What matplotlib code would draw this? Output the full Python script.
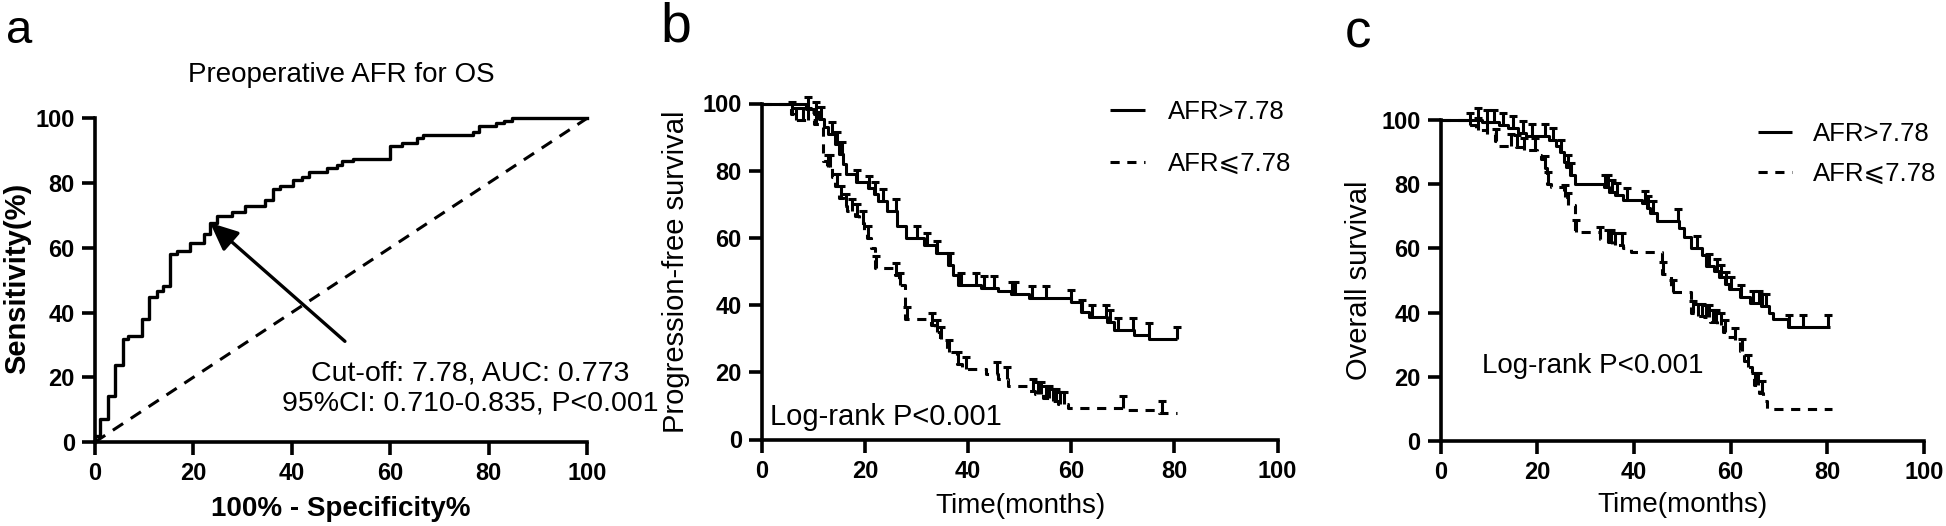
import numpy as np
import matplotlib
matplotlib.use("Agg")
import matplotlib.pyplot as plt
from matplotlib.path import Path
from matplotlib.font_manager import FontProperties

plt.rcParams['font.family'] = ['Liberation Sans', 'DejaVu Sans']

# ---------------- data ----------------
tick_vals = [0, 20, 40, 60, 80, 100]

# ROC (panel a): corners of the staircase (steps-pre)
roc_fpr = [0, 1.0, 2.7, 4.1, 5.6, 6.8, 9.5, 11.0, 12.5, 13.9, 15.25, 16.6, 19.3, 22.2, 23.4,
           24.8, 27.8, 30.5, 34.6, 36.1, 37.5, 40.3, 42.1, 43.4, 47.1, 49.2, 50.2, 52.5, 59.9,
           62.3, 65.5, 66.7, 76.8, 78.0, 81.6, 83.2, 84.8, 100]
roc_tpr = [0, 1.9, 7.1, 14.3, 23.7, 31.7, 32.7, 37.9, 44.9, 46.6, 48.1, 58.2, 58.9, 61.5, 64.4,
           67.7, 69.7, 70.9, 72.8, 74.8, 78.1, 79.2, 80.9, 81.9, 83.5, 84.5, 85.6, 86.9, 87.4,
           91.3, 92.5, 93.8, 94.8, 95.8, 97.6, 98.6, 99.2, 100]
cutoff_fpr, cutoff_tpr = 23.4, 67.7
roc_title = "Preoperative AFR for OS"
roc_note = ["Cut-off: 7.78, AUC: 0.773", "95%CI: 0.710-0.835, P<0.001"]

# Panel b: progression-free survival
pfs_hi_t = [8.5, 10, 11, 12, 12.8, 14.2, 15, 15.8, 16.3, 18.2, 20.5, 21.8, 22.5, 24.2, 26.2, 28,
            31.5, 33.8, 36, 37, 38, 42.5, 45.7, 48.2, 51.8, 60, 61.8, 63.5, 67, 68.3, 72.2, 75.1]
pfs_hi_s = [98.5, 97, 95.5, 93, 91, 88, 85, 82, 79, 76.5, 75, 73, 71, 68, 63.5, 60,
            58, 55.5, 52, 49, 46, 45, 44.2, 43.2, 42.2, 41, 38, 36.5, 35, 32.5, 31, 30]
pfs_hi_end = 80.5
pfs_hi_cens = [9, 10.5, 11.5, 13.5, 14.5, 15.5, 18.5, 20.7, 22, 23.5, 26, 30, 32, 34, 36.5, 38.5,
               41.5, 43, 45, 48.4, 49, 52.3, 55, 60, 62, 64, 66.8, 67.5, 69, 72, 75, 80.4]

pfs_lo_t = [5.7, 6.3, 10, 11, 11.8, 12.6, 13.5, 14.2, 15, 16, 16.4, 18, 18.8, 19.8, 20.4, 21.2,
            21.9, 25.8, 26.5, 27.8, 32.7, 33.5, 34.5, 35.8, 37.8, 38.8, 43.5, 45.7, 47.8, 51.5,
            53, 54.5, 56, 57.5, 59.3, 70.2, 77]
pfs_lo_s = [97, 95, 94, 93, 83, 81, 78, 75.5, 72, 69.5, 68, 66.5, 64.5, 62, 60, 57,
            51, 49, 46, 36, 34, 32, 30, 26, 22.5, 21, 19.5, 18, 16, 14.5,
            13.5, 12.5, 11.5, 10.5, 9.5, 8.8, 8]
pfs_lo_end = 80.4
pfs_lo_cens = [5.9, 6.6, 8, 9, 10.5, 12.8, 13.2, 14.5, 15.3, 16.2, 17.5, 18.5, 19.5, 20.6, 22.2,
               26, 26.8, 28.2, 33, 34, 34.8, 36.2, 38, 39.5, 45.5, 47.5, 52.5, 53.5, 54.2, 55,
               55.7, 56.4, 57, 57.8, 58.5, 70, 77.5]

# Panel c: overall survival
os_hi_t = [8.5, 12, 14, 16, 17.7, 22.5, 23.8, 24.7, 25.5, 26, 26.8, 27.7, 33.8, 34.8, 36, 37.7,
           41.6, 42.6, 43.4, 44.8, 49.4, 50.3, 51.9, 54, 55, 56.6, 57.6, 58.9, 59.7, 61.9, 64.1,
           66.2, 68, 68.8, 71.9]
os_hi_s = [99.5, 98.5, 97.5, 96, 95, 93.8, 92, 90, 87, 85.5, 83, 80, 79, 77.5, 76.5, 75,
           74, 72.5, 71, 68.5, 66.5, 63.5, 60, 58, 54.5, 53, 51, 49, 47.5, 45, 43,
           42, 40, 38, 35.5]
os_hi_end = 80.5
os_hi_cens = [7.8, 9.5, 11, 13, 15, 17, 19, 21.6, 23.3, 25, 26.3, 27, 34, 34.7, 35.4, 36.5, 38.5,
              42.2, 43, 44, 49.2, 53, 55.5, 57.2, 58, 59, 60, 62.2, 64.6, 65.8, 66.4, 67.4, 72,
              75, 80.2]

os_lo_t = [5.6, 7.4, 9.5, 11.3, 12.1, 15.6, 17.3, 19.9, 20.8, 21.6, 22.1, 22.9, 25.5, 26.4, 27.7,
           32.9, 34.6, 35.5, 37.7, 39.4, 45.9, 47.6, 51.9, 53.2, 54.5, 55.8, 57.1, 58.4, 59.3,
           61, 61.9, 62.8, 63.6, 64.5, 64.9, 65.8, 66.7, 67.5]
os_lo_s = [98.5, 97, 95.5, 93.5, 92, 91.5, 90.5, 89, 88, 85, 80, 79, 76, 73.5, 65,
           63, 62, 61, 60, 59, 52, 46.5, 40, 39, 38.5, 37, 36, 34, 32.5,
           31.5, 28, 25, 23, 21, 17.5, 15, 12.5, 10]
os_lo_end = 81
os_lo_cens = [6, 7.8, 9.5, 11.5, 14.5, 15.8, 17.3, 19.5, 21.6, 22.3, 25.8, 26.4, 28, 33, 34.6,
              35.2, 36, 37.5, 46, 48, 52.2, 53.2, 54, 54.8, 55.5, 56.3, 57, 58, 58.8, 61, 62.3,
              63.6, 65, 65.6, 66.4]

label_hi = "AFR>7.78"
label_lo = "AFR\u2a7d7.78"
logrank = "Log-rank P<0.001"

# ---------------- figure ----------------
W, H = 1946, 526
fig = plt.figure(figsize=(W / 100, H / 100), dpi=100)


def px_axes(x0, x1, y_top, y_bot):
    return fig.add_axes([x0 / W, 1 - y_bot / H, (x1 - x0) / W, (y_bot - y_top) / H])


def fx(x):
    return x / W


def fy(y):
    return 1 - y / H


tick_fp = FontProperties(family=['Liberation Sans', 'DejaVu Sans'], weight='bold', size=17)
SPINE_W = 2.6


def style(ax):
    for s in ['top', 'right']:
        ax.spines[s].set_visible(False)
    for s in ['left', 'bottom']:
        ax.spines[s].set_linewidth(SPINE_W)
        ax.spines[s].set_capstyle('projecting')
    ax.set_xlim(0, 100)
    ax.set_ylim(0, 100)
    ax.set_xticks(tick_vals, labels=[str(v) for v in tick_vals], fontproperties=tick_fp)
    ax.set_yticks(tick_vals, labels=[str(v) for v in tick_vals], fontproperties=tick_fp)
    ax.tick_params(direction='out', length=9.5, width=SPINE_W, pad=5, colors='black')


cens_path = Path([(0, 0), (0, 1), (-0.35, 1), (0.35, 1)],
                 [Path.MOVETO, Path.LINETO, Path.MOVETO, Path.LINETO])


def km(ax, t, s, end, cens, ls, label):
    xs = [0] + list(t) + [end]
    ys = [100] + list(s) + [s[-1]]
    ax.plot(xs, ys, drawstyle='steps-post', color='black', lw=2.2, ls=ls, label=label,
            solid_capstyle='butt', dash_capstyle='butt', clip_on=False)
    levels = np.array([100] + list(s))
    idx = np.searchsorted(np.array(t), np.array(cens), side='right')
    ax.plot(cens, levels[idx], ls='none', marker=cens_path, markersize=18,
            markeredgewidth=2.2, color='black', clip_on=False)


# ---- panel a ----
axA = px_axes(95, 587, 118.3, 442)
style(axA)
axA.plot(roc_fpr, roc_tpr, drawstyle='steps-pre', color='black', lw=2.4, clip_on=False)
axA.plot([0, 100], [0, 100], color='black', lw=2.2, ls=(0, (4, 3)), clip_on=False)
axA.annotate('', xy=(cutoff_fpr, cutoff_tpr), xytext=(50.8, 31.1),
             arrowprops=dict(arrowstyle='-|>,head_length=0.85,head_width=0.38',
                             mutation_scale=20, lw=2.4, color='black',
                             shrinkA=0, shrinkB=0))
fig.text(fx(341), fy(81.7), roc_title, ha='center', va='baseline', fontsize=20)
fig.text(fx(470), fy(380), roc_note[0], ha='center', va='baseline', fontsize=20.5)
fig.text(fx(470), fy(410), roc_note[1], ha='center', va='baseline', fontsize=20.5)
fig.text(fx(17), fy(278), 'Sensitivity(%)', rotation=90, ha='center', va='center',
         fontsize=21, fontweight='bold')
fig.text(fx(341), fy(516), '100% - Specificity%', ha='center', va='baseline',
         fontsize=20, fontweight='bold')
fig.text(fx(6), fy(43), 'a', ha='left', va='baseline', fontsize=34)

# ---- panel b ----
axB = px_axes(762, 1277.6, 103.5, 439.5)
style(axB)
km(axB, pfs_hi_t, pfs_hi_s, pfs_hi_end, pfs_hi_cens, '-', label_hi)
km(axB, pfs_lo_t, pfs_lo_s, pfs_lo_end, pfs_lo_cens, (0, (3, 2.5)), label_lo)
fig.text(fx(770), fy(425), logrank, ha='left', va='baseline', fontsize=21)
fig.text(fx(676), fy(271.5), 'Progression-free survival', rotation=90, ha='center',
         va='center', fontsize=21)
fig.text(fx(1020), fy(513), 'Time(months)', ha='center', va='baseline', fontsize=20)
fig.text(fx(660), fy(42), 'b', ha='left', va='baseline', fontsize=40)
axB.legend(loc='upper left', bbox_to_anchor=(fx(1110), fy(100)), bbox_transform=fig.transFigure,
           frameon=False, fontsize=18.5, borderpad=0, borderaxespad=0, handlelength=1.36,
           handletextpad=0.9, labelspacing=1.1)

# ---- panel c ----
axC = px_axes(1440.6, 1924, 120, 441)
style(axC)
km(axC, os_hi_t, os_hi_s, os_hi_end, os_hi_cens, '-', label_hi)
km(axC, os_lo_t, os_lo_s, os_lo_end, os_lo_cens, (0, (3, 2.5)), label_lo)
fig.text(fx(1482), fy(373), logrank, ha='left', va='baseline', fontsize=20)
fig.text(fx(1359), fy(280), 'Overall survival', rotation=90, ha='center', va='center',
         fontsize=21)
fig.text(fx(1683), fy(512), 'Time(months)', ha='center', va='baseline', fontsize=20)
fig.text(fx(1345), fy(47), 'c', ha='left', va='baseline', fontsize=38)
axC.legend(loc='upper left', bbox_to_anchor=(fx(1758), fy(122)), bbox_transform=fig.transFigure,
           frameon=False, fontsize=18.5, borderpad=0, borderaxespad=0, handlelength=1.32,
           handletextpad=0.8, labelspacing=0.63)

fig.savefig('out.png', dpi=100)
